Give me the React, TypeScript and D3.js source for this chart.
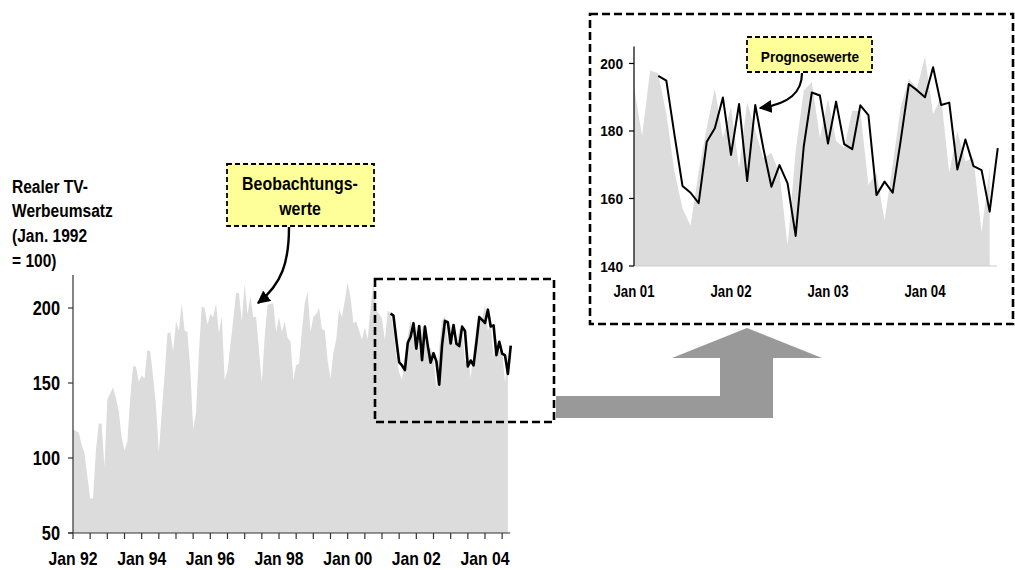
import React from 'react';
import * as d3 from 'd3';

// month index 0 = Jan 92
const observedStart = 0;
const observed = [
  119, 118, 117, 109, 103, 88, 73, 73, 105, 123, 123, 94,
  139, 143, 147, 140, 131, 114, 105, 111, 140, 161, 161, 151,
  155, 153, 172, 171, 154, 135, 104, 130, 155, 183, 184, 171,
  191, 185, 203, 185, 184, 159, 119, 130, 170, 201, 200, 189,
  196, 194, 203, 183, 195, 152, 158, 175, 192, 210, 210, 191,
  216, 196, 208, 194, 194, 172, 150, 181, 202, 203, 203, 184,
  194, 184, 191, 180, 178, 152, 162, 163, 185, 203, 211, 184,
  194, 196, 200, 186, 185, 165, 153, 170, 179, 199, 194, 205,
  217, 207, 190, 191, 185, 179, 187, 179, 200, 216, 199, 196,
  193, 178.5, 198, 197, 185, 168, 157, 152, 168, 181, 192.5, 178,
  187, 169, 188.5, 180, 172, 173.5, 167.5, 146, 174, 192, 194.5, 178,
  189.5, 177, 175, 186, 186, 164, 167.5, 153.5, 170, 187, 195.5, 192.5,
  202, 185, 190, 167.5, 180, 171, 172, 150, 169,
];

// forecast starts Apr 01
const forecastStart = 111;
const forecast = [
  196.3, 194.9, 179, 163.7, 161.7, 158.6, 176.8, 180.8, 189.9,
  172.9, 188, 165.2, 187.7, 174.9, 163.5, 169.9, 164.5, 148.9, 175.4, 191.4, 190.5,
  176.3, 188.7, 176.1, 174.6, 187.6, 184.7, 161, 165, 161.7, 177.3, 193.9, 192.1,
  190, 198.9, 187.7, 188.4, 168.6, 177.5, 169.6, 168.4, 156.1, 174.9,
];

const mainYTicks = [50, 100, 150, 200];
const mainXTickLabels = ['Jan 92', 'Jan 94', 'Jan 96', 'Jan 98', 'Jan 00', 'Jan 02', 'Jan 04'];
const insetYTicks = [140, 160, 180, 200];
const insetXTickLabels = ['Jan 01', 'Jan 02', 'Jan 03', 'Jan 04'];
const yTitle = ['Realer TV-', 'Werbeumsatz', '(Jan. 1992', '= 100)'];
const observedNote = ['Beobachtungs-', 'werte'];
const forecastNote = ['Prognosewerte'];

const FONT = "'Liberation Sans', Arial, Helvetica, sans-serif";

const monthOf = (label: string) => {
  const yy = +label.slice(4);
  return ((yy < 50 ? 2000 + yy : 1900 + yy) - 1992) * 12;
};

const T = ({ x, y, size, anchor = 'start', sx = 0.84, children }: any) => (
  <text
    transform={`translate(${x},${y}) scale(${sx},1)`}
    fontSize={size}
    fontWeight="bold"
    fontFamily={FONT}
    textAnchor={anchor}
    fill="#000"
  >
    {children}
  </text>
);

export default function App() {
  const obs = observed.map((v, i) => ({ m: observedStart + i, v }));
  const fc = forecast.map((v, i) => ({ m: forecastStart + i, v }));

  // main chart
  const x = d3.scaleLinear().domain([0, 144]).range([73, 485]);
  const y = d3.scaleLinear().domain([50, 222]).range([533, 275]);
  const area = d3.area<any>().x(d => x(d.m)).y0(y(50)).y1(d => y(d.v));
  const line = d3.line<any>().x(d => x(d.m)).y(d => y(d.v));
  const halfYears = d3.range(0, 151, 6);

  // inset chart
  const x2 = d3.scaleLinear().domain([108, 156]).range([634, 1022]);
  const y2 = d3.scaleLinear().domain([140, 205]).range([266, 46.6]);
  const area2 = d3.area<any>().x(d => x2(d.m)).y0(y2(140)).y1(d => y2(d.v));
  const line2 = d3.line<any>().x(d => x2(d.m)).y(d => y2(d.v));
  const insetObs = obs.filter(d => d.m >= 108);

  return (
    <svg width={1015} height={570} style={{ position: 'absolute', left: 0, top: 0, background: '#fff' }}>
      <defs>
        <marker id="head" viewBox="0 0 10 10" refX="9" refY="5" markerWidth="13" markerHeight="13"
          markerUnits="userSpaceOnUse" orient="auto">
          <path d="M0,0 L10,5 L0,10 z" fill="#000" />
        </marker>
        <clipPath id="insetClip">
          <rect x={634} y={y2(205)} width={370} height={y2(140) - y2(205)} />
        </clipPath>
      </defs>

      {/* y title */}
      {yTitle.map((t, i) => (
        <T key={t} x={12} y={192.5 + i * 24.7} size={18.5}>{t}</T>
      ))}

      {/* main chart */}
      <path d={area(obs) || ''} fill="#dcdcdc" />
      <line x1={x(0)} x2={x(0)} y1={y(222)} y2={y(50)} stroke="#333" strokeWidth={1.2} />
      <line x1={x(0) - 5} x2={x(152.8)} y1={y(50)} y2={y(50)} stroke="#333" strokeWidth={1.2} />
      {mainYTicks.map(t => (
        <g key={t}>
          <line x1={x(0) - 5} x2={x(0)} y1={y(t)} y2={y(t)} stroke="#333" strokeWidth={1.2} />
          <T x={60} y={y(t) + 7} size={19.5} anchor="end" sx={0.84}>{t}</T>
        </g>
      ))}
      {halfYears.map(m => (
        <line key={m} x1={x(m)} x2={x(m)} y1={y(50)} y2={y(50) + 6} stroke="#333" strokeWidth={1.2} />
      ))}
      {mainXTickLabels.map(l => (
        <T key={l} x={x(monthOf(l))} y={565} size={19} anchor="middle" sx={0.83}>{l}</T>
      ))}
      <path d={line(fc) || ''} fill="none" stroke="#000" strokeWidth={2.6} strokeLinejoin="round" />
      <rect x={375} y={279} width={179} height={143} fill="none" stroke="#000" strokeWidth={2.6}
        strokeDasharray="8,4" />

      {/* big grey arrow */}
      <polygon
        points="556,396 720,396 720,358 672,358 747,328 822,358 773,358 773,418 556,418"
        fill="#999"
      />

      {/* inset */}
      <rect x={590} y={14} width={423} height={310} fill="#fff" stroke="#000" strokeWidth={2.6}
        strokeDasharray="8,4" />
      <g clipPath="url(#insetClip)">
        <path d={area2(insetObs) || ''} fill="#dcdcdc" />
        <path d={line2(fc) || ''} fill="none" stroke="#000" strokeWidth={2} strokeLinejoin="round" />
      </g>
      <line x1={634} x2={997} y1={y2(140)} y2={y2(140)} stroke="#ccc" strokeWidth={1.2} />
      <line x1={634} x2={634} y1={y2(205)} y2={y2(140)} stroke="#000" strokeWidth={1.2} />
      {insetYTicks.map(t => (
        <g key={t}>
          <line x1={629} x2={634} y1={y2(t)} y2={y2(t)} stroke="#000" strokeWidth={1.2} />
          <T x={623} y={y2(t) + 5.5} size={15.5} anchor="end" sx={0.88}>{t}</T>
        </g>
      ))}
      {insetXTickLabels.map(l => (
        <T key={l} x={x2(monthOf(l))} y={296.5} size={16.5} anchor="middle" sx={0.8}>{l}</T>
      ))}

      {/* notes */}
      <rect x={227} y={164} width={147} height={62} fill="#ffff99" stroke="#000" strokeWidth={1.8}
        strokeDasharray="5,3" />
      {observedNote.map((t, i) => (
        <T key={t} x={300} y={189.5 + i * 25.5} size={18.5} anchor="middle" sx={0.86}>{t}</T>
      ))}
      <path d="M289,227 C289,262 282,284 258,303" fill="none" stroke="#000" strokeWidth={2.4}
        markerEnd="url(#head)" />

      <rect x={747} y={37} width={125} height={35} fill="#ffff99" stroke="#000" strokeWidth={1.8}
        strokeDasharray="5,3" />
      {forecastNote.map(t => (
        <T key={t} x={810} y={61.5} size={15.5} anchor="middle" sx={0.88}>{t}</T>
      ))}
      <path d="M802,73 C802,92 790,104 760,108" fill="none" stroke="#000" strokeWidth={2.2}
        markerEnd="url(#head)" />
    </svg>
  );
}
